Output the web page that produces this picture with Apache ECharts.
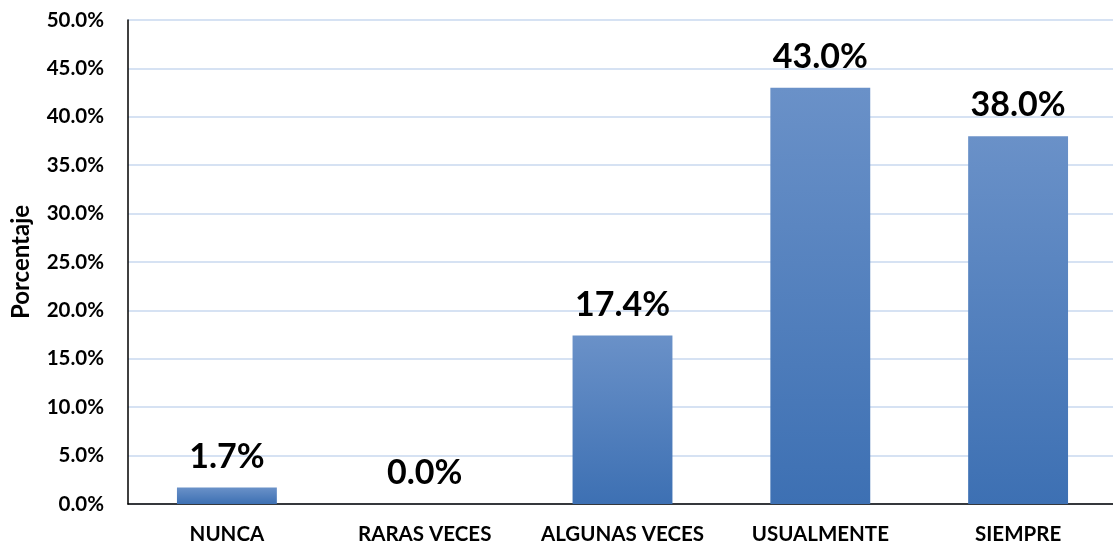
<!DOCTYPE html>
<html>
<head>
<meta charset="utf-8">
<script src="https://cdn.jsdelivr.net/npm/echarts@6/dist/echarts.min.js"></script>
<style>
  html, body { margin: 0; padding: 0; background: #ffffff; }
  #chart { width: 1113px; height: 549px; }
</style>
</head>
<body>
<div id="chart"></div>
<script>
// Frecuencia de respuestas (porcentaje)
const categories = ['NUNCA', 'RARAS VECES', 'ALGUNAS VECES', 'USUALMENTE', 'SIEMPRE'];
const values = [1.7, 0.0, 17.4, 43.0, 38.0];
const yTicks = { min: 0, max: 50, interval: 5 };
const yAxisTitle = 'Porcentaje';

const FONT = 'Lato, "Open Sans", sans-serif';

const chart = echarts.init(document.getElementById('chart'), null, { renderer: 'canvas' });

chart.setOption({
  backgroundColor: '#ffffff',
  animation: false,
  // plot area runs slightly past the right edge of the canvas
  grid: { left: 128, right: -4, top: 20, bottom: 45, outerBoundsMode: 'none', containLabel: false },
  xAxis: {
    type: 'category',
    data: categories,
    axisLine: { lineStyle: { color: '#000000', width: 1.5 } },
    axisTick: { show: false },
    axisLabel: {
      interval: 0,
      hideOverlap: false,
      margin: 20,
      color: '#000000',
      fontFamily: FONT,
      fontWeight: 'bold',
      fontSize: 20.5
    }
  },
  yAxis: {
    type: 'value',
    min: yTicks.min,
    max: yTicks.max,
    interval: yTicks.interval,
    name: yAxisTitle,
    nameLocation: 'middle',
    nameGap: 95,
    nameTextStyle: {
      color: '#000000',
      fontFamily: FONT,
      fontWeight: 'bold',
      fontSize: 24
    },
    axisLine: { show: true, lineStyle: { color: '#000000', width: 1.5 } },
    axisTick: { show: false },
    splitLine: { lineStyle: { color: '#d6e2f3', width: 2 } },
    axisLabel: {
      margin: 24,
      color: '#000000',
      fontFamily: FONT,
      fontWeight: 'bold',
      fontSize: 20.5,
      formatter: v => v.toFixed(1) + '%'
    }
  },
  series: [{
    type: 'bar',
    data: values,
    barWidth: '50.5%',
    itemStyle: {
      color: new echarts.graphic.LinearGradient(0, 0, 0, 1, [
        { offset: 0, color: '#6a91c8' },
        { offset: 1, color: '#3d70b3' }
      ])
    },
    label: {
      show: true,
      position: 'top',
      distance: 14,
      color: '#000000',
      fontFamily: FONT,
      fontWeight: 'bold',
      fontSize: 34,
      formatter: p => p.value.toFixed(1) + '%'
    }
  }]
});
</script>
</body>
</html>
